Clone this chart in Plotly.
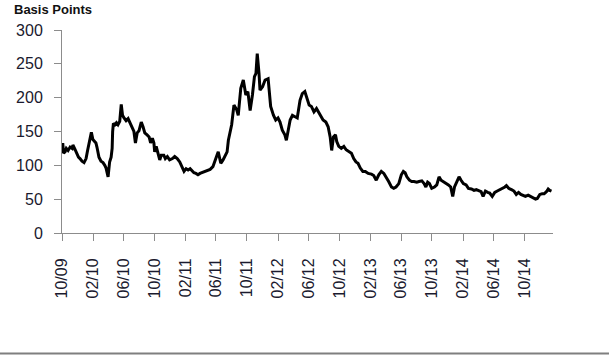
import pandas as pd
import plotly.graph_objects as go

days_since_start = [
    3, 6, 12, 17, 24, 32, 40, 43, 51, 59, 65, 71, 79, 87, 95, 101, 107, 113, 116, 122,
    130, 134, 138, 146, 154, 162, 169, 174, 182, 188, 194, 198, 200, 203, 209, 215, 221, 228, 234, 239,
    245, 253, 261, 274, 284, 290, 297, 304, 313, 320, 327, 336, 344, 350, 357, 363, 366, 372, 379, 386,
    392, 402, 408, 416, 425, 436, 445, 455, 465, 474, 482, 490, 498, 506, 514, 521, 529, 537, 545, 557,
    569, 585, 596, 604, 612, 617, 627, 636, 644, 652, 657, 670, 679, 690, 696, 706, 716, 726, 734, 743,
    752, 760, 766, 771, 778, 782, 792, 802, 814, 824, 835, 844, 853, 861, 870, 880, 886, 893, 901, 910,
    919, 929, 940, 949, 959, 967, 976, 985, 995, 1005, 1012, 1022, 1031, 1042, 1051, 1059, 1065, 1072, 1080, 1085,
    1093, 1103, 1113, 1122, 1132, 1143, 1152, 1161, 1169, 1178, 1188, 1198, 1209, 1222, 1231, 1241, 1251, 1261, 1271, 1280,
    1290, 1301, 1310, 1319, 1330, 1340, 1348, 1355, 1362, 1372, 1381, 1390, 1401, 1410, 1421, 1430, 1437, 1444, 1451, 1460,
    1471, 1480, 1489, 1497, 1506, 1517, 1526, 1535, 1543, 1550, 1559, 1568, 1576, 1585, 1596, 1605, 1617, 1627, 1636, 1646,
    1655, 1663, 1672, 1681, 1689, 1699, 1709, 1719, 1729, 1738, 1749, 1755, 1764, 1775, 1785, 1794, 1803, 1812, 1821, 1830,
    1841, 1851, 1860, 1870, 1877, 1887, 1896, 1904, 1913, 1920, 1926, 1933,
]

# Spread in basis points
basis_points = [
    133, 118, 120, 125, 122, 127, 125, 130, 124, 116, 112, 110, 106, 104, 110, 122, 132, 140, 149, 138,
    135, 133, 127, 112, 106, 104, 100, 96, 83, 105, 112, 125, 150, 162, 160, 163, 160, 165, 190, 174,
    170, 166, 169, 157, 150, 133, 148, 151, 164, 157, 148, 145, 142, 133, 140, 133, 120, 128, 118, 108,
    115, 115, 110, 113, 108, 110, 113, 110, 105, 98, 91, 95, 93, 95, 91, 89, 88, 86, 88, 90,
    91, 94, 98, 108, 115, 120, 103, 108, 113, 120, 137, 160, 189, 182, 174, 214, 226, 204, 209, 181,
    204, 231, 236, 265, 236, 211, 216, 226, 228, 187, 174, 167, 170, 164, 152, 145, 137, 150, 167, 174,
    172, 170, 196, 206, 209, 201, 189, 187, 179, 184, 179, 172, 167, 164, 157, 142, 122, 142, 145, 135,
    128, 125, 128, 123, 120, 118, 110, 105, 103, 96, 91, 91, 88, 87, 85, 78, 86, 91, 88, 83,
    76, 68, 66, 68, 73, 86, 91, 89, 83, 78, 76, 76, 75, 76, 77, 73, 68, 75, 73, 66,
    68, 71, 83, 78, 76, 73, 71, 68, 54, 68, 76, 83, 78, 73, 71, 66, 65, 63, 64, 62,
    61, 54, 62, 60, 59, 54, 60, 62, 64, 65, 68, 70, 66, 64, 62, 57, 60, 57, 56, 54,
    56, 54, 51, 50, 51, 57, 58, 58, 61, 65, 63, 62,
]

tick_dates = ["2009-10-01", "2010-02-01", "2010-06-01", "2010-10-01", "2011-02-01",
              "2011-06-01", "2011-10-01", "2012-02-01", "2012-06-01", "2012-10-01",
              "2013-02-01", "2013-06-01", "2013-10-01", "2014-02-01", "2014-06-01",
              "2014-10-01"]
tick_labels = ["10/09", "02/10", "06/10", "10/10", "02/11", "06/11", "10/11", "02/12",
               "06/12", "10/12", "02/13", "06/13", "10/13", "02/14", "06/14", "10/14"]
y_ticks = [0, 50, 100, 150, 200, 250, 300]

start = pd.Timestamp("2009-10-01")
dates = start + pd.to_timedelta(days_since_start, unit="D")

fig = go.Figure()
fig.add_trace(go.Scatter(
    x=dates, y=basis_points, mode="lines",
    line=dict(color="black", width=3), showlegend=False, hoverinfo="x+y",
))

font_family = "Liberation Sans, Arial, sans-serif"

fig.update_layout(
    width=609, height=355,
    margin=dict(l=62, r=56, t=30, b=122),
    paper_bgcolor="white", plot_bgcolor="white",
    font=dict(family=font_family, color="#1a1a2e"),
    annotations=[dict(
        text="<b>Basis Points</b>", xref="paper", yref="paper",
        x=-50 / 491, y=1 + 21 / 203, xanchor="left", yanchor="middle",
        showarrow=False, font=dict(size=13, color="#111111", family=font_family),
    )],
    shapes=[dict(
        type="line", xref="paper", yref="paper",
        x0=-62 / 491, x1=547 / 491, y0=-120.5 / 203, y1=-120.5 / 203,
        line=dict(color="#7f7f7f", width=2),
    )],
)

fig.update_xaxes(
    type="date", range=["2009-10-01", "2015-01-22"],
    tickmode="array", tickvals=tick_dates, ticktext=tick_labels,
    tickangle=-90, tickfont=dict(size=16, color="#1a1a2e"),
    ticks="outside", ticklen=7, tickcolor="#8c8c8c",
    showline=True, linecolor="#8c8c8c", linewidth=1,
    showgrid=False, zeroline=False, ticklabelstandoff=11,
)
fig.update_yaxes(
    range=[0, 300], tickmode="array", tickvals=y_ticks,
    tickfont=dict(size=16, color="#1a1a2e"),
    ticks="outside", ticklen=7, tickcolor="#8c8c8c",
    showline=True, linecolor="#8c8c8c", linewidth=1,
    showgrid=False, zeroline=False, ticklabelstandoff=8,
)

fig.write_html("out.html")
